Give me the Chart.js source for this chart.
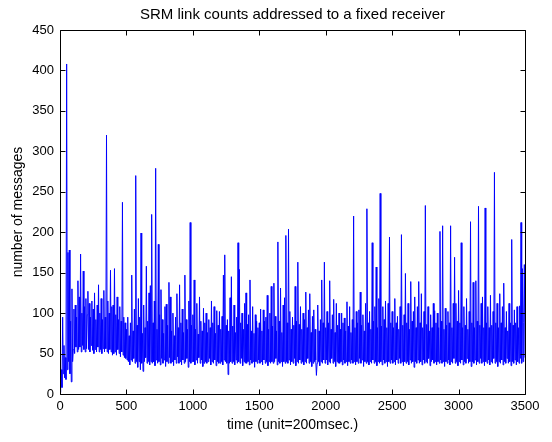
<!DOCTYPE html>
<html><head><meta charset="utf-8">
<script src="https://cdn.jsdelivr.net/npm/chart.js@4/dist/chart.umd.min.js"></script>
<style>html,body{margin:0;padding:0;background:#fff;overflow:hidden}</style>
</head><body>
<canvas id="c" width="552" height="442" style="display:block;width:552px;height:442px"></canvas>
<script>
const messageCounts = [
  2, 15, 30, 8, 95, 25, 60, 20, 45, 18, 408, 30, 175, 40, 178, 25, 90, 15, 130, 40,
  55, 105, 50, 110, 58, 95, 52, 140, 55, 120, 58, 173, 52, 100, 60, 152, 55, 108, 52, 118,
  56, 98, 127, 55, 112, 52, 95, 60, 115, 54, 105, 50, 125, 55, 92, 52, 110, 58, 135, 52,
  100, 55, 118, 50, 92, 56, 128, 52, 95, 56, 320, 52, 115, 50, 100, 55, 153, 52, 108, 48,
  110, 50, 155, 52, 98, 48, 120, 55, 92, 50, 108, 46, 90, 52, 237, 48, 95, 45, 88, 44,
  80, 42, 95, 40, 72, 36, 88, 42, 147, 40, 78, 44, 105, 38, 270, 40, 85, 33, 118, 40,
  95, 30, 199, 38, 75, 28, 110, 40, 82, 45, 158, 38, 90, 40, 125, 36, 134, 40, 222, 38,
  88, 40, 115, 35, 279, 42, 80, 38, 185, 40, 98, 36, 129, 44, 92, 38, 75, 42, 108, 34,
  111, 40, 85, 38, 138, 45, 120, 38, 78, 40, 100, 35, 72, 42, 95, 38, 124, 46, 82, 38,
  135, 40, 88, 36, 105, 42, 76, 38, 147, 40, 92, 44, 80, 33, 115, 40, 212, 38, 85, 40,
  98, 40, 141, 36, 80, 42, 112, 38, 74, 45, 120, 38, 90, 42, 78, 34, 106, 38, 88, 40,
  100, 38, 76, 40, 92, 44, 82, 36, 115, 40, 88, 38, 108, 42, 75, 35, 103, 40, 85, 38,
  102, 38, 80, 40, 96, 36, 147, 42, 172, 40, 85, 38, 92, 24, 78, 38, 119, 40, 145, 38,
  84, 40, 110, 36, 76, 42, 95, 38, 187, 40, 154, 38, 88, 44, 100, 35, 80, 40, 112, 38,
  125, 38, 86, 40, 98, 36, 141, 42, 78, 38, 108, 40, 75, 33, 98, 40, 90, 38, 82, 42,
  88, 38, 105, 40, 78, 36, 104, 42, 90, 38, 95, 40, 122, 35, 80, 40, 100, 38, 133, 40,
  84, 38, 137, 40, 96, 44, 78, 36, 188, 40, 90, 38, 131, 40, 76, 34, 110, 40, 119, 38,
  196, 40, 88, 38, 204, 42, 102, 36, 80, 40, 95, 38, 85, 44, 133, 35, 90, 40, 163, 38,
  86, 42, 108, 38, 80, 40, 100, 36, 92, 40, 126, 38, 82, 44, 104, 38, 124, 40, 76, 34,
  96, 38, 104, 40, 80, 42, 23, 38, 110, 40, 78, 35, 92, 40, 141, 38, 88, 42, 163, 38,
  82, 42, 102, 36, 88, 40, 140, 38, 80, 44, 98, 38, 117, 40, 76, 34, 112, 40, 85, 38,
  100, 38, 80, 40, 100, 36, 88, 42, 94, 38, 78, 40, 114, 35, 84, 40, 108, 38, 76, 42,
  92, 38, 220, 40, 82, 36, 102, 40, 88, 38, 104, 44, 126, 38, 85, 42, 98, 34, 78, 40,
  112, 38, 229, 40, 88, 36, 102, 40, 80, 38, 187, 42, 90, 38, 108, 40, 157, 35, 82, 40,
  118, 38, 248, 40, 84, 36, 108, 42, 92, 38, 115, 40, 82, 34, 112, 40, 194, 38, 88, 42,
  102, 38, 82, 40, 118, 36, 88, 42, 96, 38, 80, 44, 108, 38, 197, 40, 85, 35, 98, 40,
  149, 38, 88, 40, 112, 36, 80, 42, 139, 38, 90, 40, 102, 33, 120, 40, 82, 38, 108, 42,
  139, 38, 88, 40, 124, 36, 82, 42, 102, 38, 233, 40, 86, 38, 108, 44, 78, 35, 98, 40,
  82, 42, 112, 38, 103, 40, 88, 36, 100, 40, 82, 38, 201, 42, 90, 38, 208, 40, 80, 34,
  106, 40, 85, 38, 102, 42, 88, 36, 208, 40, 82, 38, 112, 44, 169, 38, 112, 40, 90, 35,
  128, 40, 88, 38, 187, 42, 82, 36, 108, 40, 85, 38, 118, 44, 80, 38, 102, 40, 213, 34,
  88, 40, 138, 38, 82, 42, 140, 36, 90, 40, 232, 38, 85, 44, 112, 38, 120, 40, 82, 35,
  230, 40, 88, 38, 108, 42, 82, 36, 122, 40, 85, 38, 102, 44, 274, 38, 88, 40, 112, 34,
  82, 40, 124, 38, 88, 42, 108, 36, 137, 40, 82, 38, 102, 44, 78, 38, 112, 40, 88, 35,
  191, 40, 85, 38, 104, 42, 88, 36, 108, 40, 82, 38, 109, 44, 212, 38, 155, 40, 88, 160,
  45
];
const timeStep = 5;
const timeIndex = messageCounts.map((_, i) => i * timeStep);
const xTickValues = [0, 500, 1000, 1500, 2000, 2500, 3000, 3500];
const yTickValues = [0, 50, 100, 150, 200, 250, 300, 350, 400, 450];

const titleText = 'SRM link counts addressed to a fixed receiver';
const xTitle = 'time (unit=200msec.)';
const yTitle = 'number of messages';

const FONT = '"Liberation Sans", Arial, Helvetica, sans-serif';

const boxTicks = {
  id: 'boxTicks',
  afterDraw(chart) {
    const ctx = chart.ctx, a = chart.chartArea;
    const xs = chart.scales.x, ys = chart.scales.y;
    ctx.save();
    ctx.strokeStyle = '#000';
    ctx.lineWidth = 1;
    ctx.beginPath();
    const L = Math.round(a.left) + 0.5, R = Math.round(a.right) + 0.5;
    const T = Math.round(a.top) + 0.5, B = Math.round(a.bottom) + 0.5;
    ctx.rect(L, T, R - L, B - T);
    const tl = 5;
    xTickValues.forEach(v => {
      const px = Math.round(xs.getPixelForValue(v)) + 0.5;
      ctx.moveTo(px, B); ctx.lineTo(px, B - tl);
      ctx.moveTo(px, T); ctx.lineTo(px, T + tl);
    });
    yTickValues.forEach(v => {
      const py = Math.round(ys.getPixelForValue(v)) + 0.5;
      ctx.moveTo(L, py); ctx.lineTo(L + tl, py);
      ctx.moveTo(R, py); ctx.lineTo(R - tl, py);
    });
    ctx.stroke();
    // title centred over the axes box
    ctx.fillStyle = '#000';
    ctx.font = '15px ' + FONT;
    ctx.textAlign = 'center';
    ctx.textBaseline = 'middle';
    ctx.fillText(titleText, (a.left + a.right) / 2, 15);
    ctx.restore();
  }
};

new Chart(document.getElementById('c'), {
  type: 'line',
  data: {
    datasets: [{
      data: timeIndex.map((t, i) => ({ x: t, y: messageCounts[i] })),
      borderColor: '#0000ff',
      borderWidth: 1,
      pointRadius: 0,
      tension: 0,
      fill: false
    }]
  },
  options: {
    responsive: false,
    animation: false,
    devicePixelRatio: 1,
    layout: { padding: { left: 0, right: 27, top: 30, bottom: 0 } },
    plugins: {
      legend: { display: false },
      tooltip: { enabled: false },
      title: { display: false }
    },
    scales: {
      x: {
        type: 'linear',
        min: 0, max: 3500,
        afterBuildTicks: s => { s.ticks = xTickValues.map(v => ({ value: v })); },
        afterFit: s => { s.height = 48; },
        grid: { display: false, drawTicks: false },
        border: { display: false },
        ticks: { color: '#000', font: { family: FONT, size: 13 }, padding: 5, maxRotation: 0, autoSkip: false,
                 callback: v => String(v) },
        title: { display: true, text: xTitle, color: '#000', font: { family: FONT, size: 14 }, padding: { top: 0, bottom: 8 } }
      },
      y: {
        type: 'linear',
        min: 0, max: 450,
        afterBuildTicks: s => { s.ticks = yTickValues.map(v => ({ value: v })); },
        afterFit: s => { s.width = 60; },
        grid: { display: false, drawTicks: false },
        border: { display: false },
        ticks: { color: '#000', font: { family: FONT, size: 13 }, padding: 6, autoSkip: false,
                 callback: v => String(v) },
        title: { display: true, text: yTitle, color: '#000', font: { family: FONT, size: 14 }, padding: { top: 10, bottom: 0 } }
      }
    }
  },
  plugins: [boxTicks]
});
</script>
</body></html>
